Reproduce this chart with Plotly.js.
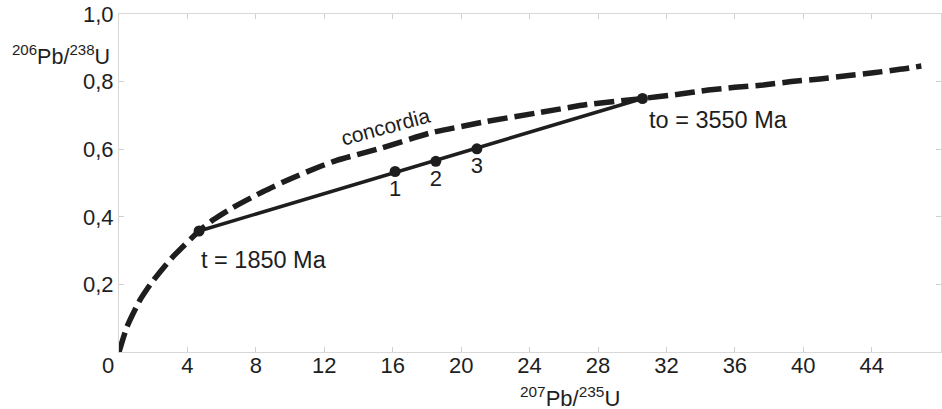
<!DOCTYPE html>
<html>
<head>
<meta charset="utf-8">
<script src="https://cdn.plot.ly/plotly-3.0.1.min.js"></script>
<style>html,body{margin:0;padding:0;background:#fff;}#chart{width:942px;height:409px;}</style>
</head>
<body>
<div id="chart"></div>
<script>
// Concordia curve (207Pb/235U vs 206Pb/238U)
const concX = [0, 0.47, 1.23, 1.93, 3.08, 4.68, 5.51, 6.78, 8.44, 10.0, 11.75, 12.73, 15.3, 18.2, 21.5, 24.4, 27.35, 30.6, 32.6, 34.45, 36.0, 37.66, 39.3, 40.97, 42.53, 44.09, 45.75, 46.9];
const concY = [0, 0.075, 0.154, 0.207, 0.278, 0.358, 0.391, 0.431, 0.475, 0.512, 0.549, 0.567, 0.603, 0.648, 0.682, 0.707, 0.732, 0.75, 0.762, 0.775, 0.783, 0.790, 0.800, 0.808, 0.817, 0.826, 0.837, 0.846];
// Discordia intercepts
const discX = [4.68, 30.6];
const discY = [0.358, 0.75];
const discAges = ["t = 1850 Ma", "to = 3550 Ma"];
// Samples
const sampleX = [16.14, 18.52, 20.92];
const sampleY = [0.534, 0.564, 0.601];
const sampleLabels = ["1", "2", "3"];
// Axis ticks
const xTicks = [4, 8, 12, 16, 20, 24, 28, 32, 36, 40, 44];
const yTicks = [0.2, 0.4, 0.6, 0.8, 1.0];
const yTickText = ["0,2", "0,4", "0,6", "0,8", "1,0"];

const ink = '#1e1e1e';
const FONT = 'Liberation Sans, Arial, sans-serif';

const traces = [
  {x: concX, y: concY, mode: 'lines', line: {color: ink, width: 5.5, dash: '20px,7px', shape: 'spline', smoothing: 0.5}, hoverinfo: 'skip'},
  {x: discX, y: discY, mode: 'lines+markers', line: {color: ink, width: 3.5}, marker: {color: ink, size: 11}, hoverinfo: 'skip'},
  {x: sampleX, y: sampleY, mode: 'markers+text', marker: {color: ink, size: 11}, text: sampleLabels,
   textposition: 'bottom center', textfont: {family: FONT, size: 22, color: ink}, hoverinfo: 'skip'}
];

const axisCommon = {
  showgrid: false, zeroline: false, showline: true, linecolor: '#d8d8d8', linewidth: 1,
  mirror: 'allticks', ticks: 'inside', ticklen: 5, tickcolor: '#cfcfcf', tickwidth: 1,
  tickfont: {family: FONT, size: 22, color: ink}
};

const layout = {
  width: 942, height: 409,
  margin: {l: 119, r: 1, t: 14, b: 57},
  paper_bgcolor: '#fff', plot_bgcolor: '#fff',
  showlegend: false,
  font: {family: FONT, color: ink},
  xaxis: Object.assign({}, axisCommon, {range: [0, 48.05], tickvals: xTicks, ticktext: xTicks.map(String), ticklabelstandoff: -6}),
  yaxis: Object.assign({}, axisCommon, {range: [0, 1.0], tickvals: yTicks, ticktext: yTickText}),
  annotations: [
    {x: discX[0], y: 0.273, xref: 'x', yref: 'y', text: discAges[0], showarrow: false, xanchor: 'left', yanchor: 'middle', font: {family: FONT, size: 23.5, color: ink}},
    {x: 30.85, y: 0.687, xref: 'x', yref: 'y', text: discAges[1], showarrow: false, xanchor: 'left', yanchor: 'middle', font: {family: FONT, size: 23.5, color: ink}},
    {x: 15.6, y: 0.666, xref: 'x', yref: 'y', text: 'concordia', showarrow: false, textangle: -15, font: {family: FONT, size: 21, color: ink}},
    {x: -0.0134, y: -0.041, xref: 'paper', yref: 'paper', text: '0', showarrow: false, xanchor: 'center', yanchor: 'middle', font: {family: FONT, size: 22, color: ink}},
    {x: -0.133, y: 0.88, xref: 'paper', yref: 'paper', text: '<sup>206</sup>Pb/<sup>238</sup>U', showarrow: false, xanchor: 'left', yanchor: 'middle', font: {family: FONT, size: 21.5, color: ink}},
    {x: 0.485, y: -0.133, xref: 'paper', yref: 'paper', text: '<sup>207</sup>Pb/<sup>235</sup>U', showarrow: false, xanchor: 'left', yanchor: 'middle', font: {family: FONT, size: 22, color: ink}}
  ]
};

Plotly.newPlot('chart', traces, layout, {staticPlot: true, displayModeBar: false});
</script>
</body>
</html>
